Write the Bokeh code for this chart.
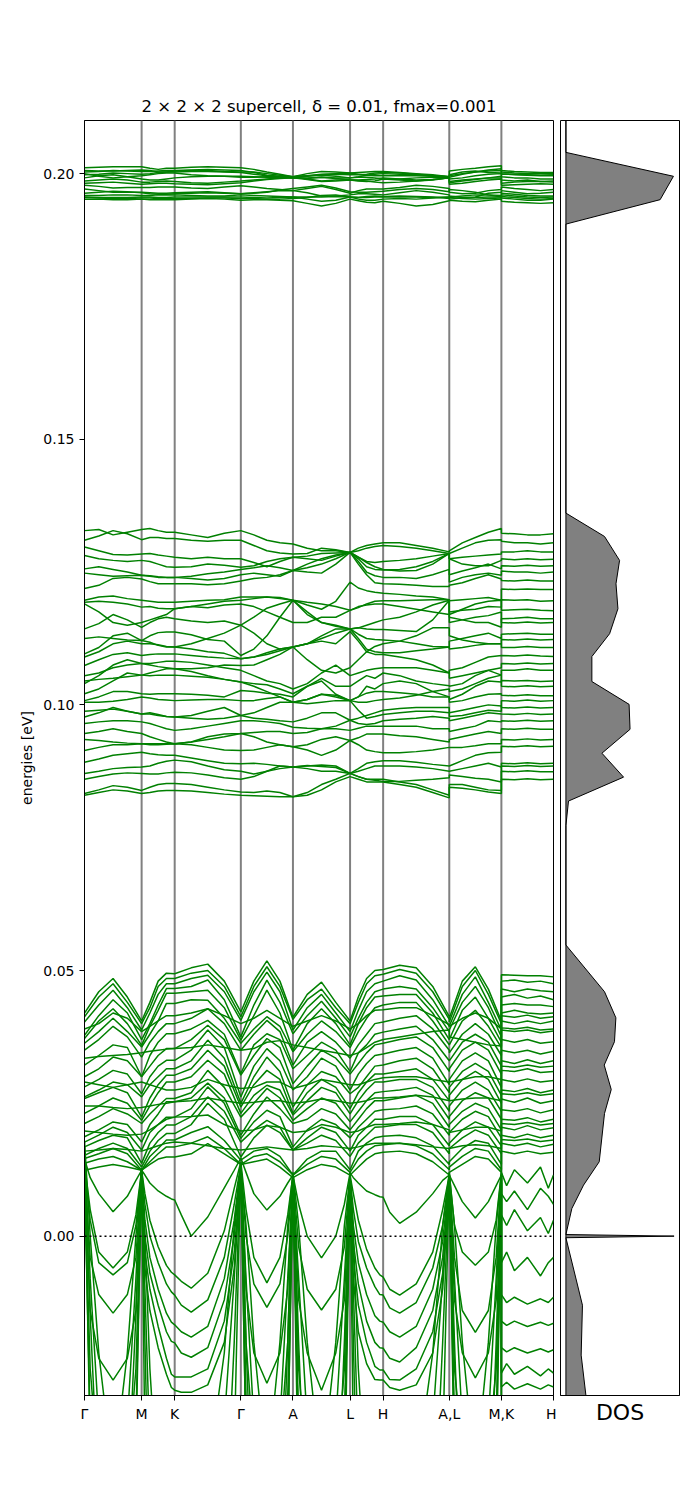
from bokeh.plotting import figure
from bokeh.models import Range1d, FixedTicker, PrintfTickFormatter, Span
from bokeh.layouts import row
from bokeh.embed import file_html
from bokeh.resources import INLINE

title_text = "2 × 2 × 2 supercell, δ = 0.01, fmax=0.001"
tick_positions = [0.0, 0.57, 0.90, 1.56, 2.08, 2.65, 2.98, 3.64, 4.16, 4.68]
tick_labels = ["Γ", "M", "K", "Γ", "A", "L", "H", "A,L", "M,K", "H"]
energy_ticks = [0.0, 0.05, 0.10, 0.15, 0.20]

# sampling fractions along each path segment (Γ-M, M-K, K-Γ, Γ-A, A-L, L-H, H-A | L-M | K-H)
coarse_fractions = [0.0, 0.25, 0.5, 0.75, 1.0]
fine_fractions = [0.0, 0.1, 0.25, 0.5, 0.75, 0.9, 1.0]

# ---- band energies in meV ----
top_bands = [
    [201.1, 201.2, 201.3, 201.3, 201.3, 201, 200.8, 201, 201, 201.2, 201.3, 201.2, 201.1, 200.8, 200.3, 199.9, 199.4, 200, 200.4, 200.3, 200.1, 200.2, 200.3, 200.4, 200.4, 200.2, 200, 199.8, 199.4, 200.5, 200.8, 201, 201.3, 201.5, 200.6, 200.4, 200.3, 200.2, 200.2],
    [200.6, 200.5, 200.5, 200.6, 200.7, 200.6, 200.3, 200.3, 200.5, 200.6, 200.6, 200.4, 200.3, 200.3, 200, 199.7, 199.4, 199.6, 199.9, 200, 200.1, 199.9, 199.7, 199.6, 199.6, 199.6, 199.6, 199.5, 199.4, 199.3, 199.9, 200.3, 200.7, 200.9, 200, 199.8, 199.7, 199.6, 199.6],
    [200.0, 199.5, 199.2, 199.4, 199.6, 199.8, 200, 200.1, 200.1, 199.8, 199.6, 199.5, 199.3, 199.3, 199.4, 199.4, 199.2, 199.2, 199.3, 199.2, 199.2, 199.3, 199.3, 199.2, 199.0, 199.0, 199.2, 199.3, 199.3, 199.0, 199.2, 199.6, 199.9, 200, 199.4, 199.2, 199.2, 199.0, 199.0],
    [199.2, 199.6, 199.8, 199.4, 199.0, 198.8, 198.8, 199, 199.2, 199.4, 199.5, 199.5, 199.5, 199.4, 199.3, 199.2, 199.4, 199, 198.6, 198.8, 198.8, 198.8, 198.9, 199, 199.2, 199.0, 198.8, 198.9, 199.2, 198.5, 198.8, 199, 199.2, 199.2, 198.8, 198.6, 198.8, 198.5, 198.6],
    [198.6, 198.8, 199, 198.8, 198.4, 198.4, 198.5, 198.6, 198.5, 198.3, 198.2, 198.4, 198.6, 198.8, 199, 199.2, 199.2, 198.9, 198.5, 198.6, 198.8, 198.6, 198.5, 198.6, 199, 198.8, 198.6, 198.8, 199.2, 198, 198.2, 198.5, 198.8, 199, 198.2, 198.4, 198.5, 198.5, 198.4],
    [197.8, 197.6, 197.3, 197.4, 197.4, 197.4, 197.5, 197.5, 197.5, 197.3, 197.2, 197.5, 197.7, 197.5, 197.2, 197, 196.8, 197.2, 197.6, 197, 196.3, 196.8, 197.1, 197.1, 197.1, 197.4, 197.8, 197.6, 197.2, 196.5, 196.2, 196.3, 196.8, 197, 197.5, 197.2, 197, 196.8, 197],
    [197.1, 196.8, 196.5, 196.5, 196.5, 196.4, 196.3, 196.3, 196.4, 196.5, 196.6, 196.4, 196.2, 196.4, 196.6, 196.8, 196.8, 196.4, 195.8, 195.8, 196, 196.2, 196.2, 196.1, 196, 196.4, 196.8, 196.5, 196, 195.8, 195.5, 195.6, 196.3, 196.5, 196.8, 196.5, 196.2, 196.3, 196.5],
    [195.9, 195.9, 196, 196, 195.9, 195.9, 196, 196, 196, 195.9, 195.8, 195.8, 196.0, 195.9, 195.8, 195.7, 195.6, 195.6, 195.6, 195.7, 195.6, 195.5, 195.5, 195.6, 195.6, 195.6, 195.6, 195.5, 195.6, 195.6, 195.8, 196, 196, 195.9, 196, 195.8, 195.6, 195.5, 195.6],
    [195.6, 195.5, 195.5, 195.5, 195.6, 195.6, 195.5, 195.5, 195.6, 195.6, 195.6, 195.6, 195.6, 195.5, 195.4, 195.5, 195.6, 195.2, 194.8, 195, 195.6, 195.2, 195, 195, 195.2, 195.3, 195.2, 195.4, 195.6, 195.2, 195.4, 195.5, 195.6, 195.6, 195.4, 195.2, 195, 195, 195.2],
    [195.2, 195.2, 195.1, 195.1, 195.2, 195.1, 195.1, 195.1, 195.1, 195.2, 195.3, 195.2, 195.0, 195.1, 195.1, 195.0, 194.9, 194.4, 193.9, 194.4, 195.2, 194.9, 194.6, 194.5, 194.8, 194.4, 193.9, 194.2, 194.9, 195, 194.8, 194.7, 195, 195.2, 194.8, 194.6, 194.5, 194.4, 194.5],
    [199.8, 199.9, 200.1, 200, 199.9, 200, 200.2, 200.3, 200.3, 200.4, 200.4, 200.3, 200.2, 199.9, 199.6, 199.4, 199.4, 199.6, 199.7, 199.5, 199.2, 199.4, 199.7, 199.9, 200, 199.9, 199.8, 199.6, 199.4, 199.8, 200.3, 200.5, 200.2, 200.1, 199.9, 199.9, 199.8, 199.7, 199.8],
    [196.3, 196.5, 196.7, 196.6, 196.4, 196.2, 196.1, 196.1, 196.2, 196.3, 196.4, 196.3, 196.2, 196.3, 196.5, 196.9, 197.2, 197.5, 197.8, 197.3, 196.6, 196.5, 196.5, 196.6, 196.7, 197, 197.2, 197, 196.6, 197, 196.8, 196.5, 196, 195.6, 196.3, 196.1, 195.9, 195.8, 195.8],
    [200.3, 200.4, 200.6, 200.5, 200.4, 200.4, 200.5, 200.6, 200.6, 200.7, 200.8, 200.7, 200.6, 200.2, 199.7, 199.5, 199.4, 199.5, 199.8, 199.9, 199.8, 199.8, 199.9, 200.1, 200.2, 200.1, 199.9, 199.6, 199.4, 199.6, 200, 200.3, 200.5, 200.6, 200.3, 200.1, 200, 200, 200],
    [195.5, 195.4, 195.3, 195.3, 195.4, 195.4, 195.3, 195.3, 195.3, 195.3, 195.4, 195.4, 195.3, 195.3, 195.2, 195.2, 195.3, 195.5, 195.9, 196, 195.6, 195.5, 195.7, 195.8, 195.7, 195.8, 195.7, 195.6, 195.3, 195.5, 195.3, 195.2, 195.3, 195.4, 195.7, 195.5, 195.3, 195.2, 195.3],
    [198.2, 198.3, 198.4, 198.2, 198.0, 198.1, 198.2, 198.2, 198.1, 198.0, 197.9, 198.1, 198.3, 198.6, 198.9, 199.1, 199.2, 199.1, 199.3, 199.1, 198.8, 198.7, 198.6, 198.4, 198.3, 198.4, 198.6, 198.9, 199.2, 198.3, 198.6, 198.9, 199.2, 199.5, 197.8, 197.9, 198, 198.1, 198],
]

middle_bands = [
    [132.8, 133, 132, 132.5, 133, 133.2, 132.8, 132.5, 132.5, 132, 131.5, 132.3, 132.8, 132, 131, 130.5, 130.3, 129.5, 129, 129, 128.7, 129.5, 130, 130.3, 130.5, 130.5, 130, 129.5, 128.8, 129, 130.5, 131.5, 132.5, 133.2, 132.3, 132.2, 132, 132, 132.2],
    [131.0, 131.8, 132.8, 132.2, 131.1, 131.5, 131.5, 131.3, 131.3, 131, 130.8, 131, 131.0, 130, 129, 128.6, 128.4, 128.5, 129.5, 129.2, 128.7, 129, 129.5, 129.8, 130, 129.8, 129.5, 129, 128.5, 128.5, 129.5, 130.5, 131, 131.1, 130.8, 130.5, 130.5, 130.3, 130.5],
    [129.7, 129, 128.3, 128.2, 128.4, 128.5, 128.2, 128, 127.8, 127.5, 127.8, 127.5, 127.5, 126.8, 126, 127, 127.8, 128, 128.5, 128.6, 128.7, 127.8, 127, 126.8, 127, 127.2, 127.5, 128, 128.5, 127.5, 127.8, 128, 128.2, 128.4, 128.8, 128.8, 129, 128.8, 128.8],
    [128.1, 127.5, 127.2, 127, 127.2, 127, 126.5, 126, 125.9, 126, 126.5, 126.3, 125.9, 126.2, 127, 127.5, 127.8, 127.5, 127.2, 128, 128.7, 127.5, 126, 125.5, 125.4, 125.5, 126, 127, 128.5, 127.5, 126.5, 126.2, 126.2, 127.2, 127.5, 127.3, 127.5, 127.3, 127.4],
    [125.6, 126, 125.5, 125, 124.4, 124.2, 124, 124, 124.0, 124.2, 124.7, 125, 125.5, 125.8, 126.2, 125.8, 125.3, 125.8, 126.5, 127.5, 128.7, 127, 125, 124.3, 124, 124, 123.8, 124.5, 125.5, 123.1, 124, 124.5, 124.8, 124.4, 125.2, 125, 125, 124.8, 125],
    [121.9, 122.5, 123.8, 124, 123.7, 123.2, 122.8, 122.8, 122.8, 122.8, 122.6, 122.8, 123.3, 123.8, 124, 124.5, 125.3, 125, 124.8, 126.5, 128.7, 126.5, 124.5, 123, 122.8, 122.7, 122.5, 122.3, 122.3, 122.5, 123, 123.8, 124.5, 123.7, 123.4, 123.3, 123.5, 123.3, 123.3],
    [119.7, 120.3, 120.5, 120, 119.7, 119.5, 119.3, 119.3, 119.3, 119.5, 119.7, 119.8, 120.3, 120.3, 120.3, 120, 119.7, 118.8, 118, 119.5, 123.1, 122, 121.5, 121.2, 121, 120.8, 120.5, 120.3, 119.8, 119.6, 119.8, 120, 120.2, 119.7, 121.8, 121.7, 121.8, 121.7, 121.7],
    [119.3, 119.5, 119.3, 119, 118.4, 118.5, 118.2, 118.1, 118.1, 118.5, 119, 119.5, 119.7, 120, 120.3, 120.2, 119.7, 119.3, 119, 118.5, 117.8, 118.3, 119, 119.5, 119.6, 119.6, 119.7, 119.8, 119.8, 117.5, 117.8, 118, 118.5, 118.4, 119.8, 119.7, 119.8, 119.5, 119.6],
    [114.3, 115.3, 117, 116, 114.6, 115.5, 116.2, 116.5, 116.2, 115.8, 115.5, 115.8, 115.0, 116.5, 118.2, 119, 119.7, 117.5, 115.5, 114.8, 114.3, 114.5, 115, 115.5, 116, 116.5, 117.5, 118.8, 119.7, 117, 118, 119, 119.5, 119.7, 117.8, 117.9, 118, 117.8, 117.7],
    [109.6, 110.8, 113, 113.5, 112.1, 113, 113.6, 113.7, 113.7, 113.2, 112.3, 112, 109.3, 110.5, 113, 116.5, 119.7, 117, 115.5, 115, 114.3, 114.5, 114.3, 114.2, 114.2, 114, 113.8, 116, 119.7, 116.5, 116, 115.5, 115.5, 114.6, 116.2, 116.3, 116.5, 116.2, 116.2],
    [109.0, 110, 111.5, 112, 111.5, 111.5, 111.3, 111, 110.9, 110.5, 110, 109.7, 108.7, 109, 109.8, 110.5, 110.9, 111.5, 113, 114.3, 114.3, 113.3, 112.5, 112.3, 112.2, 112, 111.5, 111, 110.9, 112, 112.5, 113, 113.5, 112.5, 113.3, 113.4, 113.5, 113.3, 113.3],
    [107.4, 108.5, 109.5, 109.8, 109.3, 109.5, 109.6, 109.6, 109.6, 109.3, 109, 108.8, 108.7, 109, 109.5, 110.2, 110.9, 111.5, 112.5, 113.5, 114.3, 112.5, 110.5, 110, 109.8, 109.8, 110.2, 110.5, 110.9, 110.5, 110.8, 111.2, 111.5, 111.5, 110.8, 110.8, 111, 110.8, 110.8],
    [104.0, 105.5, 107.5, 108.5, 107.8, 107.5, 107.2, 107, 106.8, 106.8, 107, 107.5, 107.4, 107.5, 108.5, 109.5, 110.9, 111.5, 112, 111.5, 113.8, 112, 110, 109.5, 109.5, 109, 108.5, 107.5, 106, 106.5, 107, 108, 109, 109.3, 109.3, 109.2, 109.4, 109.2, 109.1],
    [102.1, 103, 104.5, 106, 105.6, 105.5, 105.6, 105.6, 105.6, 105.4, 105.2, 104.8, 104.3, 104, 103.8, 103, 102.1, 103.5, 105, 103.5, 103.5, 104.5, 105.5, 105, 106, 105.5, 104.5, 104, 103.6, 103.5, 104, 105.5, 106.5, 105.6, 106.5, 106.5, 106.8, 106.5, 106.5],
    [100.8, 101.5, 102.5, 102.5, 102.1, 102, 102.1, 102.1, 102.1, 102, 101.8, 101.5, 102.7, 102.5, 102.2, 102, 101.5, 103.5, 104.5, 102, 100.8, 101.5, 103.5, 103, 104, 104.5, 104, 102.5, 101.5, 101, 102, 103.5, 104.5, 104.3, 104.6, 104.5, 104.6, 104.4, 104.5],
    [100.5, 100.5, 100.7, 101, 101.5, 101.3, 101, 100.9, 100.8, 100.9, 101, 101, 100.8, 100.8, 101.2, 101.5, 100.5, 100.2, 100.5, 100.8, 100.8, 101.5, 102.2, 102.5, 102.5, 102.3, 102, 101.5, 101.5, 100.5, 100.8, 101.5, 102, 102.1, 101.8, 101.7, 101.9, 101.7, 101.7],
    [97.7, 98.5, 99.5, 98.8, 98.3, 98.5, 98.2, 97.8, 97.7, 98, 98.8, 99.5, 98.0, 97.5, 97.3, 97, 96.8, 97.5, 98.5, 98.5, 97.1, 97.5, 98, 98.5, 99, 99.3, 99.5, 99.5, 99.5, 98.5, 99, 99.5, 100, 99.8, 99.5, 99.4, 99.6, 99.4, 99.5],
    [96.5, 96.8, 97, 97, 96.8, 96.5, 96, 95.5, 95.2, 95.5, 96, 96.5, 97, 97, 96.8, 96.5, 95.8, 95.6, 95.5, 96, 97.1, 96.5, 96.3, 96.5, 97, 97.3, 97.5, 97.8, 97.5, 97, 97.5, 98, 98.5, 98.3, 98.3, 98.2, 98.4, 98.2, 98.3],
    [94.6, 95, 95.5, 95, 94.6, 94, 93.5, 93, 92.7, 93, 94, 94.5, 94.6, 94.8, 95, 95, 94.6, 94.8, 95.5, 95.5, 95.2, 95.6, 96, 96, 96, 96, 96, 95.5, 95.5, 95, 95.5, 96, 97, 96.8, 97, 96.9, 97.1, 96.9, 97],
    [91.4, 92, 92.5, 92.5, 92.7, 92.5, 92.5, 92.6, 92.7, 92.5, 92, 91.5, 91.4, 91.5, 92, 92.5, 92.1, 92.5, 93.5, 94, 93.3, 93.8, 94.5, 94.5, 94.5, 94.2, 94, 93.5, 93, 93.5, 94, 94.5, 95, 94.6, 95.5, 95.4, 95.6, 95.4, 95.4],
    [89.2, 89.8, 90.5, 90.8, 91.1, 90.8, 90.6, 90.5, 90.5, 90, 89.5, 89, 88.9, 89, 88.8, 88.5, 88.3, 88.5, 88.7, 88.5, 87.1, 88, 89, 89.3, 89.5, 89.5, 89.2, 88.8, 88.5, 88.5, 89.5, 90.5, 91, 91.1, 92.2, 92.1, 92.3, 92.1, 92.2],
    [87.1, 87.5, 88, 88.2, 88.3, 88.5, 89, 89.4, 89.6, 89.3, 88.5, 87.8, 87.5, 87, 87.5, 88, 88.3, 88, 87.5, 87.5, 87.1, 87.5, 88, 88.5, 88.5, 88.5, 88.3, 88, 87.5, 87.5, 88, 88.5, 89, 88.3, 89, 88.9, 89.1, 88.9, 89],
    [83.3, 84, 84.8, 84.5, 83.9, 84.5, 85, 85.2, 85.2, 85, 84.5, 84, 83.6, 83.5, 83.8, 83.5, 82.7, 83.5, 85, 86, 87.1, 86.5, 86, 86, 86, 85.5, 85, 84, 83, 85, 85, 84.5, 84, 83.9, 87.5, 87.4, 87.6, 87.4, 87.4],
    [83.0, 83.5, 84, 83.8, 83.3, 83.5, 83.8, 83.9, 83.9, 83.8, 83.5, 83.2, 83.0, 82.9, 82.8, 82.7, 82.7, 83, 84, 85.5, 86.5, 86, 85.5, 85.5, 85.5, 85, 84.5, 83.5, 82.5, 84.5, 84.3, 84, 83.6, 83.3, 86, 85.9, 86.1, 85.9, 86],
    [119.0, 117.5, 115.5, 115, 115.5, 116, 116.5, 117, 118.1, 118.5, 118.3, 118.8, 119.0, 118.5, 117.5, 116.5, 115.5, 115.5, 116.5, 116.5, 117.8, 118.5, 118.8, 119, 119, 118.5, 118, 117.5, 117, 115.5, 116, 116.5, 116.8, 117.5, 115.5, 115.4, 115.6, 115.4, 115.5],
    [105.5, 106, 107, 107.5, 107.8, 107.8, 108, 108.2, 108.2, 108, 107.5, 107, 106.5, 105.5, 104.5, 104, 103, 104, 106, 107.5, 105.5, 106, 106.5, 106.8, 107, 107, 107, 106.5, 106, 105, 105.5, 106, 106.5, 107, 107.8, 107.7, 107.9, 107.7, 107.8],
    [124.8, 124.5, 124.2, 124.3, 124.4, 124.3, 124.1, 124, 124.0, 123.8, 123.5, 123.8, 124.5, 124.8, 124.5, 124.2, 125.3, 126.5, 127.5, 128.2, 128.7, 127.8, 126.8, 126, 125.5, 125.2, 125.3, 126.5, 128.5, 124.5, 125.2, 125.8, 126.5, 125.6, 126.2, 126.1, 126.3, 126.1, 126.2],
    [112.5, 112.8, 112.5, 112.2, 112.1, 111.8, 111.2, 110.9, 110.9, 111.5, 112.5, 113.5, 115.0, 113.5, 111.5, 110.5, 110.9, 108.5, 106.5, 106, 107, 108.5, 110, 111, 111.5, 112, 113, 114.5, 114.5, 113, 112.2, 111.8, 111.5, 111.5, 112.3, 112.2, 112.4, 112.2, 112.3],
    [98.8, 99, 99.2, 98.8, 98.3, 98.3, 98, 97.8, 97.7, 97.5, 97.3, 97.5, 98, 98.5, 99.5, 100.5, 100.5, 101, 102, 101.5, 100.8, 99, 97.5, 97.8, 98.2, 98.5, 98.8, 98.8, 98.5, 97.8, 98, 98.5, 99, 98.8, 100.8, 100.7, 100.9, 100.7, 100.8],
    [93.5, 93.3, 93, 92.8, 92.7, 92.7, 92.7, 92.7, 92.7, 93, 93.5, 94, 94.6, 94, 93, 92.5, 92.1, 91.5, 90.5, 91.5, 93.3, 92.5, 91.5, 91.2, 91, 91, 91.2, 91.5, 92, 92, 92, 92.3, 92.7, 92.7, 93.5, 93.4, 93.6, 93.4, 93.5],
    [86, 86.5, 87, 87.2, 87.1, 87, 87, 87.2, 87.3, 87.2, 86.8, 86.3, 86, 86.5, 87.5, 88.5, 88.3, 88.6, 88.4, 88.2, 87.1, 86.5, 86, 85.8, 85.6, 85.6, 85.8, 86, 86.3, 86.8, 86.5, 86.2, 86, 85.5, 88.5, 88.4, 88.6, 88.4, 88.5],
    [104.5, 104.8, 105, 105.3, 105.6, 106, 106.4, 106.8, 106.8, 106.3, 105.5, 104.8, 104.3, 103.5, 102.5, 101.5, 100.5, 101, 102, 101.8, 100.8, 100.5, 100.5, 100.8, 101, 101.3, 101.8, 102.5, 103, 102.5, 103, 104, 105, 105.6, 103.5, 103.4, 103.6, 103.4, 103.5],
]

lower_bands = [
    [42, 46, 48.5, 45, 40.5, 44, 48, 49.5, 49.4, 50.5, 51.2, 48, 42.2, 48, 51.8, 48, 41.2, 45.5, 47.8, 44, 40.5, 45, 48.5, 50, 50.2, 51, 50.5, 47, 41.3, 41, 48, 50.7, 46.5, 40.5, 49.2, 49.1, 49, 49, 48.8],
    [41.3, 45, 47.5, 44, 40.0, 43, 47, 48.5, 48.5, 49.5, 50.0, 47, 41.3, 47, 50.7, 47, 40.8, 44.5, 46.5, 43, 40.0, 44, 47.5, 49, 49.3, 50.2, 49.5, 46, 40.8, 40.3, 47, 50.0, 45.5, 40.0, 48, 48.2, 47.8, 48, 47.5],
    [40.3, 43.5, 46.3, 43, 38.8, 42, 45.5, 47.5, 47.5, 48.5, 49.1, 46, 40.6, 46, 49.7, 46, 38.8, 43, 45.5, 42, 38.5, 42.5, 46, 47.5, 48, 49, 48.2, 44.5, 39.5, 39.5, 45.5, 48.8, 44, 38.8, 46.5, 46, 46.5, 46.2, 46],
    [37.8, 41.5, 44.5, 42, 37.0, 40, 43.5, 46.6, 46.6, 47, 48.2, 44.5, 37.5, 43.5, 48.2, 44, 38.1, 41.5, 44.2, 41, 37.5, 41, 44, 46, 46.5, 47, 46.5, 43, 38.5, 38.8, 44, 47, 43, 37.5, 45, 45.5, 44.8, 45.2, 44.5],
    [37.2, 40.5, 42.8, 40, 35.9, 39.5, 42.5, 45.7, 45.7, 46, 46.3, 43, 36.9, 41.5, 46.3, 42, 35, 40, 42.8, 40, 36, 40, 43, 45, 45.2, 45.5, 45.5, 42, 37, 37, 42.5, 45, 41, 36.5, 43.5, 43.8, 43.5, 43.5, 43.2],
    [36.3, 38.5, 41, 38.5, 35.6, 38, 40.5, 43.8, 43.8, 44.5, 44.4, 41, 36.3, 39, 41.3, 39.5, 34.7, 38, 40.5, 38.5, 35.5, 38.5, 41, 43, 43.5, 44, 44, 40.5, 36, 36, 40.5, 42.5, 39.5, 35.5, 42, 42.5, 42, 41.8, 42],
    [35, 37, 39.5, 37.5, 33.7, 36.5, 38.5, 40, 40, 41, 42.8, 40, 35, 38, 40.6, 38.5, 32.2, 36.5, 38.5, 36.5, 33.5, 36, 38, 40, 40.3, 41, 41.5, 39, 35, 34.5, 38, 40, 38, 34, 40.5, 40, 40.5, 40, 40.5],
    [32.2, 34, 36, 35.5, 30.0, 34, 36.5, 38.1, 38.1, 39, 40.6, 38, 30.6, 36, 38.1, 37, 31.5, 34, 36.5, 35, 31, 34.5, 36, 38, 38.4, 39, 39.5, 37, 33, 33, 36.5, 38, 36.5, 32, 38.8, 38.5, 38.8, 38.3, 38.6],
    [30, 31.5, 33.7, 33, 30, 32, 34, 35.3, 35.3, 37, 39.7, 37, 30.3, 34, 37.2, 35.5, 28.7, 32, 35, 33.5, 30.5, 32.5, 34.5, 36, 36.3, 37, 37.5, 35.5, 31, 31.5, 35, 36.5, 35, 30.5, 37, 36.5, 37, 36.3, 36.6],
    [28.1, 29.5, 31.2, 30.5, 26.8, 30, 32, 33.1, 33.1, 35, 38.8, 35.5, 26.2, 32, 35.3, 33, 27.5, 30, 33.5, 32, 27.5, 30.5, 32.5, 34, 34.3, 35, 35.5, 33.5, 28.5, 29.5, 33, 34.5, 33, 28, 35, 34.5, 35, 34.3, 34.8],
    [26.2, 27.5, 29, 28.5, 26.2, 28.5, 30, 31.5, 31.5, 33, 36.9, 33.5, 25.0, 30, 33.7, 31, 24.3, 28.5, 31, 30, 26.8, 28, 30, 32, 32.2, 33, 33.5, 31.5, 27, 28, 31, 32.5, 31, 26.5, 33, 32.5, 33.2, 32.5, 33],
    [25.9, 27, 28, 27, 22.4, 26, 28.5, 30.3, 30.3, 31.5, 35, 32, 24.3, 28.5, 31.2, 29.5, 23.1, 27, 29.5, 28, 24, 27, 29, 30.5, 30.5, 31, 31.5, 29.5, 25.5, 26.5, 29.5, 31, 29.5, 25, 31.2, 31, 31.5, 30.8, 31],
    [23.1, 24.5, 26, 25, 21.8, 24.5, 27, 29, 29, 30, 33.1, 30.5, 23.1, 26.5, 28.4, 27.5, 22.8, 25.5, 28, 27, 23, 25.5, 27.5, 29, 29, 29.5, 29.5, 28, 23.5, 24.5, 27.5, 29, 27.5, 23.5, 29.5, 29, 29.6, 29, 29.3],
    [21.2, 22.5, 24, 23, 21.2, 23, 24.5, 25.9, 25.9, 27, 31.2, 28, 22.4, 25, 27.8, 26, 21.8, 24, 26, 25, 21.5, 23.5, 25.5, 27, 27.2, 27.5, 28, 26.5, 22, 22.5, 25.5, 27, 26, 22, 27.5, 27.2, 27.8, 27, 27.5],
    [18.7, 20, 21.5, 21, 17.7, 21, 23, 25.3, 25.3, 26, 28.8, 26, 19, 23, 26.2, 24, 21.2, 22, 24, 23, 20, 22, 24, 25.5, 25.5, 26, 26.5, 25, 20.5, 21, 23.5, 25, 24, 20, 25.8, 25.2, 26, 25, 25.5],
    [17.7, 19, 20.5, 19.5, 16.2, 19.5, 21, 22.4, 22.4, 24, 28.1, 25, 18.4, 21.5, 23.7, 22.5, 16.8, 20, 22, 21, 18.5, 20.5, 22, 23.5, 23.8, 24, 24.5, 23, 19, 19.5, 22, 23.5, 22.5, 18.5, 23.8, 23.5, 24, 23.2, 23.8],
    [16.8, 18, 19, 18.5, 13.7, 17.5, 19.5, 20.9, 20.9, 22.5, 26.2, 23.5, 17.7, 20, 21.8, 20.5, 16.2, 18.5, 20.5, 19.5, 16, 19, 20.5, 22, 22, 22.5, 22.5, 21, 17, 17.5, 20, 21.5, 20.5, 17, 22, 21.8, 22.3, 21.5, 22],
    [15.2, 16.5, 17.5, 16.5, 13.0, 16, 18, 19.3, 19.3, 21, 25, 22, 14.9, 18.5, 20.9, 19.5, 16.2, 17.5, 19, 18, 15, 17.5, 19, 20.5, 20.6, 21, 21, 19.5, 15.5, 16.5, 18.5, 20, 19, 15.5, 20.5, 20, 20.8, 20, 20.4],
    [14.6, 15.5, 16.5, 15.5, 12.4, 15, 16.5, 18.1, 18.1, 19.5, 20.6, 18, 14.3, 16, 16.5, 15, 11.5, 14.5, 16, 16, 12.5, 16, 17.5, 18.5, 18.8, 19, 18.5, 17, 13.5, 14, 16.5, 18, 17.5, 13.5, 19, 18.5, 19.2, 18.5, 19],
    [13.7, 14.5, 15, 14, 12.4, 14, 15.5, 16.8, 16.8, 17.5, 18.7, 16.5, 13.5, 15, 15.5, 14, 11.5, 13.5, 15, 14.5, 12, 14.5, 16, 17, 17.2, 17.5, 17, 15.5, 12.5, 13, 15, 16.5, 16, 12.5, 17.5, 17, 17.5, 16.8, 17.3],
    [12.4, 13, 13.5, 13, 12.4, 13.5, 14.5, 14.9, 14.9, 15.5, 17.4, 15.5, 13.5, 14, 14.5, 13, 11, 12.5, 13.5, 13, 11.5, 13, 14.5, 15.5, 15.8, 16, 15.5, 14, 11.5, 12, 13.5, 15, 14.5, 12, 16, 15.5, 16, 15.5, 15.8],
    [33.5, 33.8, 34, 34.2, 34.5, 34.8, 35, 35.2, 35.3, 35.5, 36, 35.5, 35, 35.3, 36.5, 36.8, 36, 35.5, 35, 34.5, 34, 34.5, 35.5, 36.5, 37, 37.5, 38, 38.5, 38.8, 37.5, 37, 36.5, 36, 35.8, 39.2, 39, 39.3, 38.8, 39],
    [29, 28.5, 28, 28.5, 29, 28.5, 28, 27.5, 27.5, 28, 29.5, 28.5, 27.8, 28, 29, 29, 27.8, 28.5, 29.5, 29, 28.5, 28.5, 29, 29.5, 29.8, 30, 30, 29.5, 29, 29, 29.5, 30, 30, 29.5, 32, 31.8, 32.2, 31.8, 32],
    [19.8, 19.5, 19.2, 19, 19.2, 20, 21, 22, 22.4, 22.5, 22.8, 21, 19.8, 20, 20.8, 20.5, 19.5, 19.8, 21, 20.5, 19.5, 19.8, 20.5, 21, 21, 21.2, 21.5, 21, 20, 19.5, 20, 20.5, 20.5, 19.8, 21.2, 21, 21.4, 20.9, 21.2],
    [24.5, 24.5, 24.2, 24, 24.2, 24.5, 24.8, 25, 25.3, 25.5, 26, 25.5, 25, 25.2, 25.5, 25.5, 25, 25.3, 25.8, 25.5, 25, 25.2, 25.5, 26, 26, 26.2, 26.5, 26.2, 25.5, 25.5, 25.8, 26, 26, 25.5, 26.8, 26.6, 27, 26.5, 26.8],
    [39, 40, 42, 41, 38.5, 39.5, 40.5, 41.5, 41.5, 42, 42.8, 41.5, 40, 41, 42.5, 41, 39.5, 40.5, 41.5, 40.5, 39, 40, 41.5, 42.5, 42.6, 43, 43, 41.5, 39.8, 39.5, 41, 42, 41, 39, 41.5, 41.2, 41.6, 41, 41.3],
    [16, 16.2, 16.5, 16.3, 16, 16.5, 17, 17.5, 17.7, 17.5, 17, 16.5, 16.2, 16.5, 16.8, 16.5, 16.2, 16.5, 17, 16.8, 16.5, 16.8, 17.2, 17.5, 17.5, 17.5, 17.2, 16.8, 16.5, 16.5, 17, 17.2, 17, 16.5, 18.2, 18, 18.3, 17.8, 18.1],
]

soft_bands = [
    [14.5, 11, 8, 4.6, 7.5, 10.5, 12.4, 11.5, 10, 8.5, 7.5, 7, 6.8, 4, 0, 3.6, 9.1, 12.4, 14.7, 12, 8, 4.9, 7.5, 10, 11.5, 6, 0, -4.1, 0, 6, 11.9, 11, 10, 8.5, 7.8, 7.4, 7.3, 4.5, 2.4, 4.5, 8, 10.5, 11.5, 11.5, 9.5, 6.5, 3.4, 6.5, 9.5, 11.5, 8, 6.5, 8.5, 5, 9, 7.5, 6],
    [13.7, 5, -3, -6.0, -3, 4, 12.4, 8, 3, -2, -5.5, -6.8, -7.3, -8.5, -9.8, -7, 1, 9, 14, 5, -4, -8.8, -4, 4, 11.5, -2, -10, -13.9, -10, -2, 11.5, 8, 3, -2.5, -6, -7.3, -7.7, -10, -11.1, -9, -3, 5, 11.5, 11.9, 2, -3, -5.5, -3, 3, 11.9, -5, -3, -6.5, -4, -7.5, -5, -4],
    [13.0, 3, -5, -7.3, -5, 2, 12.4, 6, 0, -5, -9, -10.5, -11.1, -13, -14.3, -12, -4, 6, 13.5, 0, -9, -13.4, -9, 0, 11, -12, -22, -29, -22, -12, 11, 5, -1, -6, -9.5, -11, -11.1, -13.5, -14.5, -12.5, -6, 2, 11, 11.5, -4, -14, -18.1, -14, -4, 11.5, -11, -12.5, -11.5, -12.8, -11.8, -12.5, -11.5],
    [12.5, -4, -11, -14.5, -11, -4, 12.4, 3, -4, -10, -14.5, -16.2, -16.7, -18, -19, -17, -8, 3, 13.5, -10, -22, -27.7, -22, -10, 11, -25, -45, -55, -45, -25, 11, 2, -5, -11, -15, -16, -16.2, -18, -19, -17, -10, -1, 11, 11, -12, -22, -26.7, -22, -12, 11, -16, -16.8, -16, -17, -16.2, -16.8, -16.4],
    [12, -14, -23, -27.1, -23, -14, 12.4, 0, -7, -13, -18, -19.8, -20.1, -22, -22.8, -21, -12, 0, 13, -20, -40, -50, -40, -20, 10.5, -35, -55, -65, -55, -35, 10.5, -1, -9, -16, -20, -21, -21.1, -23, -23.7, -21, -14, -4, 10.5, 10.5, -25, -40, -50, -40, -25, 11, -21, -21.8, -21, -22, -21.2, -21.8, -21.4],
    [11.5, -25, -45, -55, -45, -25, 12, -3, -10, -17, -23, -26, -26.5, -26.5, -26.5, -25, -16, -3, 12.5, -30, -50, -60, -50, -30, 10.5, -40, -60, -70, -60, -40, 10.5, -4, -13, -20, -24.5, -25.2, -25.2, -27, -27.1, -25, -18, -7, 10.5, 10.5, -35, -55, -65, -55, -35, 10.5, -25.8, -24, -26, -24.5, -26.3, -25, -25.8],
    [11, -35, -60, -70, -60, -35, 11.5, -6, -14, -21, -26, -28.5, -29, -29.4, -29.4, -28, -20, -6, 12, -40, -60, -70, -60, -40, 10, -50, -70, -80, -70, -50, 10, -8, -18, -24, -27, -27.1, -27.1, -28.5, -29, -28, -22, -10, 10, 10, -45, -65, -75, -65, -45, 10, -28.4, -27.5, -28.8, -27.8, -28.8, -28, -28.4],
    [15, -40, -80, -90, -80, -40, 12.8, -40, -80, -90, -90, -90, -90, -90, -90, -90, -80, -40, 14, -40, -80, -90, -80, -40, 11.5, -40, -80, -90, -80, -40, 12, -40, -80, -90, -90, -90, -90, -90, -90, -90, -80, -40, 11.3, 11.8, -40, -80, -90, -80, -40, 11.5, -90, -90, -90, -90, -90, -90, -90],
    [16, -15, -50, -70, -50, -15, 12.6, -20, -60, -80, -80, -80, -80, -80, -80, -80, -60, -20, 13.8, -20, -60, -80, -60, -20, 11.8, -20, -60, -80, -60, -20, 11.5, -20, -60, -80, -80, -80, -80, -80, -80, -80, -60, -20, 11, 11.2, -20, -60, -80, -60, -20, 11.2, 4, 2, 5, 1, 3.5, 0.5, 3],
    [17, -8, -35, -60, -35, -8, 12.2, -10, -40, -70, -70, -70, -70, -70, -70, -60, -35, -8, 13.2, -8, -35, -60, -35, -8, 11, -8, -35, -60, -35, -8, 11.8, -10, -40, -70, -70, -70, -70, -70, -70, -60, -35, -8, 12, 12, -8, -35, -60, -35, -8, 12, 12, 9.5, 12.5, 10, 13, 9, 11.5],
    [18, 0, -22, -45, -22, 0, 12, 0, -25, -50, -60, -60, -60, -60, -60, -45, -22, 2, 12.8, 2, -20, -45, -20, 2, 12, 2, -20, -45, -20, 2, 11.2, 0, -25, -50, -60, -60, -60, -60, -60, -45, -22, 2, 11.8, 11.6, 2, -20, -45, -20, 2, 11.8, -60, -60, -60, -60, -60, -60, -60],
]

# ---- phonon DOS (normalised) ----
dos_energy = [0.21, 0.2040, 0.1995, 0.1951, 0.1905, 0.1361, 0.1317, 0.1272, 0.1228, 0.1181,
              0.1134, 0.1091, 0.1044, 0.1001, 0.0954, 0.0909, 0.0864, 0.0819, 0.0773, 0.0548,
              0.0460, 0.0411, 0.0366, 0.0322, 0.0276, 0.0231, 0.0140, 0.0096, 0.0052, 0.0003,
              0.0, -0.0003, -0.0130, -0.0224, -0.0300]
dos_value = [0, 0, 0.994, 0.871, 0, 0, 0.357, 0.496, 0.463, 0.481,
             0.404, 0.240, 0.240, 0.584, 0.593, 0.333, 0.533, 0.024, 0, 0,
             0.357, 0.462, 0.449, 0.354, 0.419, 0.357, 0.308, 0.163, 0.055, 0.0,
             1.0, 0.0, 0.153, 0.141, 0.185]


def path_x(fracs):
    xs = []
    for i in range(len(tick_positions) - 1):
        a, b = tick_positions[i], tick_positions[i + 1]
        fr = fracs if i in (0, 7, 8) else fracs[1:]
        xs += [a + f * (b - a) for f in fr]
    return xs


coarse_x = path_x(coarse_fractions)
fine_x = path_x(fine_fractions)

FONT = "DejaVu Sans"
y_range = Range1d(-0.03, 0.21)

p1 = figure(width=556, height=1500, x_range=Range1d(tick_positions[0], tick_positions[-1]),
            y_range=y_range, output_backend="svg", toolbar_location=None,
            min_border_left=84, min_border_right=3, min_border_top=120, min_border_bottom=105)
p1.title.text = title_text
p1.title.text_font = FONT
p1.title.text_font_size = "16.5px"
p1.title.text_font_style = "normal"
p1.title.text_color = "black"
p1.title.align = "center"
p1.xgrid.visible = False
p1.ygrid.visible = False
p1.outline_line_color = "black"
p1.outline_line_width = 1
p1.outline_line_alpha = 1

# vertical lines at the high-symmetry points
for xv in tick_positions[1:-1]:
    p1.add_layout(Span(location=xv, dimension="height", line_color="gray", line_width=2, level="underlay"))

all_groups = [(top_bands, coarse_x), (middle_bands, coarse_x), (lower_bands, coarse_x), (soft_bands, fine_x)]
for bands, xg in all_groups:
    xs_list, ys_list = [], []
    for b in bands:
        n = min(len(b), len(xg))
        xs_list.append(xg[:n])
        ys_list.append([v / 1000.0 for v in b[:n]])
    p1.multi_line(xs=xs_list, ys=ys_list, line_color="green", line_width=1.5)

p1.add_layout(Span(location=0.0, dimension="width", line_color="black", line_width=1.5, line_dash="2 3"))

p1.xaxis.ticker = FixedTicker(ticks=tick_positions)
p1.xaxis.major_label_overrides = {t: lab for t, lab in zip(tick_positions, tick_labels)}
p1.yaxis.ticker = FixedTicker(ticks=energy_ticks)
p1.yaxis.formatter = PrintfTickFormatter(format="%.2f")
p1.yaxis.axis_label = "energies [eV]"
for ax in (p1.xaxis[0], p1.yaxis[0]):
    ax.major_label_text_font = FONT
    ax.major_label_text_font_size = "14px"
    ax.major_label_text_color = "black"
    ax.major_tick_in = 0
    ax.major_tick_out = 5
    ax.minor_tick_line_color = None
    ax.axis_line_color = "black"
    ax.major_tick_line_color = "black"
    ax.axis_label_text_font = FONT
    ax.axis_label_text_font_size = "14px"
    ax.axis_label_text_font_style = "normal"
    ax.axis_label_text_color = "black"

p2 = figure(width=144, height=1500, x_range=Range1d(-0.05, 1.05), y_range=y_range,
            output_backend="svg", toolbar_location=None,
            min_border_left=4, min_border_right=21, min_border_top=120, min_border_bottom=105)
p2.xgrid.visible = False
p2.ygrid.visible = False
p2.yaxis.visible = False
p2.outline_line_color = "black"
p2.outline_line_alpha = 1
p2.xaxis.ticker = FixedTicker(ticks=[])
p2.xaxis.axis_label = "DOS"
p2.xaxis.axis_label_text_font = FONT
p2.xaxis.axis_label_text_font_size = "22px"
p2.xaxis.axis_label_text_font_style = "normal"
p2.xaxis.axis_label_text_color = "black"
p2.xaxis.axis_label_standoff = 4
p2.xaxis.axis_line_color = "black"
p2.xaxis.major_tick_line_color = None
p2.xaxis.minor_tick_line_color = None

patch_x = [0.0] + dos_value + [0.0]
patch_y = [dos_energy[0]] + dos_energy + [dos_energy[-1]]
p2.patch(patch_x, patch_y, fill_color="gray", line_color="black", line_width=1)

layout = row(p1, p2)
open("out.html", "w").write(file_html(layout, INLINE))
